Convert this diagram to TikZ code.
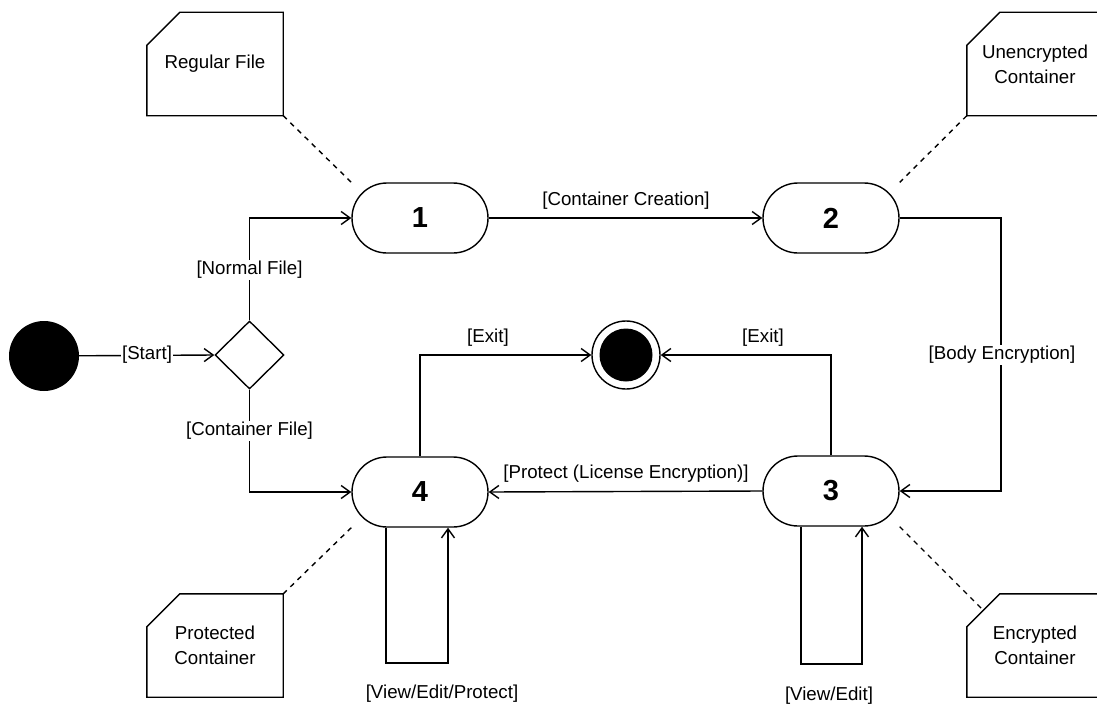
\documentclass[tikz,border=0pt]{standalone}
\usepackage{fontspec}
\setmainfont{Liberation Sans}
\usetikzlibrary{arrows.meta,shapes.geometric,calc}

\begin{document}
\begin{tikzpicture}[x=1pt,y=-1pt,
  every node/.style={font=\fontsize{18.7}{25}\selectfont},
  line/.style={line width=1.4pt, draw=black},
  arr/.style={line, -{Straight Barb[length=9pt,width=13pt,line width=1.4pt]}},
  state/.style={line, rectangle, rounded corners=35pt, minimum width=136pt,
    minimum height=70pt, inner sep=0pt, font=\fontsize{29}{32}\selectfont\bfseries},
  choice/.style={line, diamond, minimum width=69pt, minimum height=68pt, inner sep=0pt},
  notebox/.style={minimum width=136pt, minimum height=103pt, align=center, inner sep=0pt},
  onlabel/.style={fill=white, inner sep=1.5pt},
  freelabel/.style={inner sep=1pt},
  dashline/.style={line, dashed, dash pattern=on 5pt off 5pt}
]
\useasboundingbox (0,0) rectangle (1097,709);

% initial and final pseudo states
\node[circle, fill=black, minimum size=70pt, inner sep=0pt] (start) at (44,356) {};
\node[circle, line, minimum size=68pt, inner sep=0pt] (stop) at (626,355) {};
\node[circle, fill=black, minimum size=53pt, inner sep=0pt] (stopdot) at (626,355) {};

% decision
\node[choice] (dec) at (249.5,355) {};

% states
\node[state] (s1) at (420,218) {1};
\node[state] (s2) at (831,218) {2};
\node[state] (s3) at (831,491) {3};
\node[state] (s4) at (420,492) {4};

% notes
\node[notebox] (n1) at (215,64) {Regular File};
\node[notebox] (n2) at (1035,64) {Unencrypted\\Container};
\node[notebox] (n4) at (215,645.5) {Protected\\Container};
\node[notebox] (n3) at (1035,645.5) {Encrypted\\Container};
\foreach \n in {n1,n2,n3,n4}{
  \draw[line] (\n.south west) -- (\n.south east) -- (\n.north east)
    -- ([xshift=33pt]\n.north west) -- ([yshift=-33pt]\n.north west) -- cycle;
}
\coordinate (n3cut) at ([xshift=17pt,yshift=-17pt]n3.north west);

% note anchors
\draw[dashline] (n1.south east) -- (s1.north west);
\draw[dashline] (n2.south west) -- (s2.north east);
\draw[dashline] (n4.north east) -- (s4.south west);
\draw[dashline] (s3.south east) -- (n3cut);

% transitions
\draw[arr] (start) -- (dec.west);
\node[onlabel] (lstart) at (147,355) {[Start]};

\draw[arr] (dec.north) |- (s1.west);
\node[onlabel] (lnormal) at (249.5,270) {[Normal File]};

\draw[arr] (dec.south) |- (s4.west);
\node[onlabel] (lcont) at (249.5,431) {[Container File]};

\draw[arr] (s1.east) -- (s2.west);
\node[freelabel] (lcreate) at (626,201) {[Container Creation]};

\coordinate (bodyx) at (1001,355);
\draw[arr] (s2.east) -| (bodyx) |- (s3.east);
\node[onlabel] (lbody) at (1002,355) {[Body Encryption]};

\draw[arr] (s3.west) -- (s4.east);
\node[freelabel] (lprotect) at (626,474) {[Protect (License Encryption)]};

\draw[arr] (s4.north) |- (stop.west);
\node[freelabel] (lexit4) at (488,338) {[Exit]};

\draw[arr] (s3.north) |- (stop.east);
\node[freelabel] (lexit3) at (763,338) {[Exit]};

% self transitions
\coordinate (l4a) at (386,663);
\coordinate (l4b) at (448,663);
\draw[arr] (l4a |- s4.south) -- (l4a) -- (l4b) -- (l4b |- s4.south);
\node[freelabel] (lview4) at (442,694) {[View/Edit/Protect]};

\coordinate (l3a) at (801,664);
\coordinate (l3b) at (862,664);
\draw[arr] (l3a |- s3.south) -- (l3a) -- (l3b) -- (l3b |- s3.south);
\node[freelabel] (lview3) at (829,696) {[View/Edit]};
\end{tikzpicture}
\end{document}
